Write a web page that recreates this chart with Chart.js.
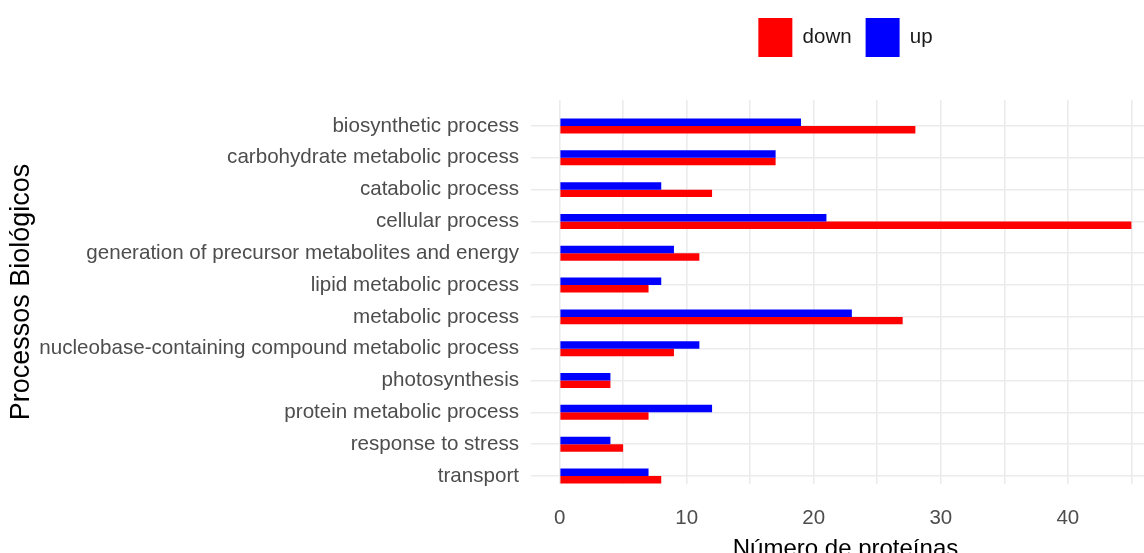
<!DOCTYPE html>
<html>
<head>
<meta charset="utf-8">
<script src="https://cdn.jsdelivr.net/npm/chart.js@4.4.1/dist/chart.umd.min.js"></script>
<style>
  html, body { margin: 0; padding: 0; background: #ffffff; overflow: hidden; }
  #wrap { width: 1144px; height: 553px; overflow: hidden; position: relative; }
  #c { display: block; }
</style>
</head>
<body>
<div id="wrap"><canvas id="c" width="1160" height="575"></canvas></div>
<script>
const categories = [
  "biosynthetic process",
  "carbohydrate metabolic process",
  "catabolic process",
  "cellular process",
  "generation of precursor metabolites and energy",
  "lipid metabolic process",
  "metabolic process",
  "nucleobase-containing compound metabolic process",
  "photosynthesis",
  "protein metabolic process",
  "response to stress",
  "transport"
];
const upValues   = [19, 17, 8, 21, 9, 8, 23, 11, 4, 12, 4, 7];
const downValues = [28, 17, 12, 45, 11, 7, 27, 9, 4, 7, 5, 8];
const xTicks = [0, 5, 10, 15, 20, 25, 30, 35, 40, 45];
const xLabelTicks = [0, 10, 20, 30, 40];

const FONT = "'Liberation Sans', Arial, sans-serif";

const legendSpace = {
  id: 'legendSpace',
  beforeInit(chart) {
    const orig = chart.legend.fit;
    chart.legend.fit = function () {
      orig.bind(chart.legend)();
      this.height = 96;
    };
  }
};

new Chart(document.getElementById('c'), {
  type: 'bar',
  data: {
    labels: categories,
    datasets: [
      { label: 'up', data: upValues, backgroundColor: '#0000FF', borderWidth: 0 },
      { label: 'down', data: downValues, backgroundColor: '#FF0000', borderWidth: 0 }
    ]
  },
  options: {
    indexAxis: 'y',
    responsive: false,
    animation: false,
    layout: { padding: { top: 4, left: 0, right: 0, bottom: 0 } },
    datasets: { bar: { categoryPercentage: 0.47, barPercentage: 1.0 } },
    plugins: {
      tooltip: { enabled: false },
      legend: {
        position: 'top',
        fullSize: false,
        reverse: true,
        labels: {
          boxWidth: 34,
          boxHeight: 39,
          padding: 14,
          color: '#1a1a1a',
          font: { family: FONT, size: 20.5 }
        }
      }
    },
    scales: {
      x: {
        type: 'linear',
        min: -2.25,
        max: 47.25,
        afterBuildTicks: (s) => { s.ticks = xTicks.map(v => ({ value: v })); },
        afterFit: (s) => { s.height = 91; },
        border: { display: false },
        grid: { color: '#ebebeb', lineWidth: 1.6, drawTicks: false },
        ticks: {
          padding: 22,
          color: '#4d4d4d',
          font: { family: FONT, size: 20.5 },
          callback: (v) => xLabelTicks.includes(v) ? String(v) : ''
        },
        title: {
          display: true,
          text: 'Número de proteínas',
          color: '#000000',
          font: { family: FONT, size: 24 },
          padding: { top: 0, bottom: 11 }
        }
      },
      y: {
        type: 'category',
        afterBuildTicks: (s) => { s._startValue = -0.817; s._valueRange = 12.069; },
        afterFit: (s) => { s.width = 531; },
        border: { display: false },
        grid: { color: '#ebebeb', lineWidth: 1.6, drawTicks: false, offset: false },
        ticks: {
          padding: 12,
          color: '#4d4d4d',
          font: { family: FONT, size: 20.6 },
          autoSkip: false
        },
        title: {
          display: true,
          text: 'Processos Biológicos',
          color: '#000000',
          font: { family: FONT, size: 27 },
          padding: { top: 5, bottom: 0 }
        }
      }
    }
  },
  plugins: [legendSpace]
});
</script>
</body>
</html>
